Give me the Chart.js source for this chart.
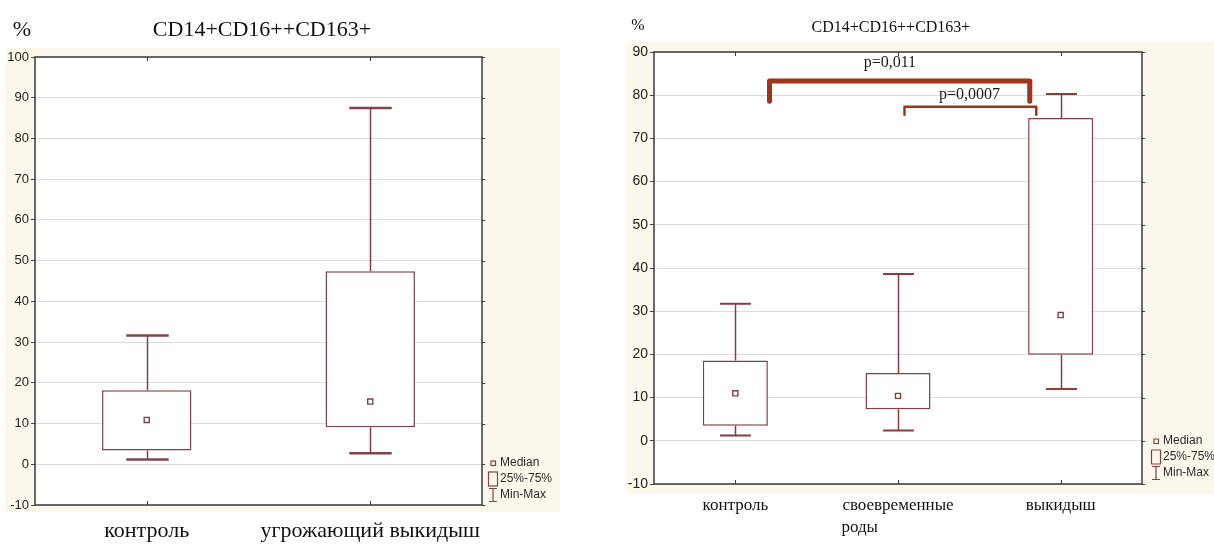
<!DOCTYPE html>
<html>
<head>
<meta charset="utf-8">
<script src="https://cdn.jsdelivr.net/npm/chart.js@4.4.0/dist/chart.umd.min.js"></script>
<style>
	body { margin: 0; background: #fff; width: 1214px; height: 544px; overflow: hidden; }
	.panel { position: absolute; top: 0; }
</style>
</head>
<body>
<div class="panel" style="left:0"><canvas id="left" width="600" height="544"></canvas></div>
<div class="panel" style="left:600px"><canvas id="right" width="614" height="544"></canvas></div>
<script>
'use strict';

// left panel : control vs threatened miscarriage
var leftCategories = ['контроль', 'угрожающий выкидыш'];
var leftMin    = [1.2, 2.7];
var leftQ1     = [3.4, 9.1];
var leftMedian = [10.9, 15.4];
var leftQ3     = [18.2, 47.4];
var leftMax    = [31.6, 87.5];
var leftYRange = [-10, 100];

// right panel : control, term delivery, miscarriage
var rightCategories = ['контроль', ['своевременные', 'роды'], 'выкидыш'];
var rightMin    = [1.2, 2.4, 12.0];
var rightQ1     = [3.5, 7.3, 19.9];
var rightMedian = [11.0, 10.4, 29.1];
var rightQ3     = [18.6, 15.7, 74.7];
var rightMax    = [31.7, 38.6, 80.3];
var rightYRange = [-10, 90];

// significance brackets (category index / % units)
var pLabels   = ['p=0,011', 'p=0,0007'];
var pBrackets = [[0.21, 1.81, 83.3, 78.6], [1.04, 1.85, 77.3, 75.5]];
var pTextAt   = [[0.95, 87.6], [1.44, 80.1]];

var legendLabels = ['Median', '25%-75%', 'Min-Max'];
var chartTitle = 'CD14+CD16++CD163+';

var SERIF = '"Liberation Serif", "Times New Roman", serif';
var SANS = '"Liberation Sans", Arial, sans-serif';

//pad the extra lines of a multi-line label so that they start where the first line starts
function alignLeft(ctx, lines, font){
	if(!Array.isArray(lines)){
		return lines;
	}
	ctx.save();
	ctx.font = font;
	var w0 = ctx.measureText(lines[0]).width,
		sp = ctx.measureText('\u00a0').width,
		out = lines.map(function(l){
			var n = Math.round((w0 - ctx.measureText(l).width) / sp);
			return l + '\u00a0'.repeat(Math.max(0, n));
		});
	ctx.restore();
	return out;
}

var boxPlugin = {
	id : 'boxplot',

	beforeDraw : function(chart, args, o){
		var ctx = chart.ctx, a = chart.chartArea;
		ctx.save();
		ctx.fillStyle = '#fdf8ec';
		ctx.fillRect(o.panel[0], o.panel[1], o.panel[2], o.panel[3]);
		ctx.fillStyle = '#ffffff';
		ctx.fillRect(a.left, a.top, a.right - a.left, a.bottom - a.top);
		ctx.restore();
	},

	afterDatasetsDraw : function(chart, args, o){
		var ctx = chart.ctx, a = chart.chartArea,
			x = chart.scales.x, y = chart.scales.y,
			capW = (a.right - a.left) / o.min.length * 0.19,
			i, cx, yMin, yMax;
		ctx.save();
		ctx.strokeStyle = o.color;
		for(i = 0; i < o.min.length; i++){
			cx = Math.round(x.getPixelForValue(i)) + 0.5;
			yMin = y.getPixelForValue(o.min[i]);
			yMax = y.getPixelForValue(o.max[i]);
			//whiskers
			ctx.lineWidth = 1.5;
			ctx.beginPath();
			ctx.moveTo(cx, y.getPixelForValue(o.q3[i]));
			ctx.lineTo(cx, yMax);
			ctx.moveTo(cx, y.getPixelForValue(o.q1[i]));
			ctx.lineTo(cx, yMin);
			ctx.stroke();
			//caps
			ctx.lineWidth = o.capWidth;
			ctx.beginPath();
			ctx.moveTo(cx - capW / 2, yMax);
			ctx.lineTo(cx + capW / 2, yMax);
			ctx.moveTo(cx - capW / 2, yMin);
			ctx.lineTo(cx + capW / 2, yMin);
			ctx.stroke();
		}
		ctx.restore();
	},

	afterDraw : function(chart, args, o){
		var ctx = chart.ctx, a = chart.chartArea,
			x = chart.scales.x, y = chart.scales.y,
			i, px, b, lx, ly, row = 16;
		ctx.save();

		//frame and the small tick marks
		ctx.strokeStyle = '#3a3a3a';
		ctx.lineWidth = 1.5;
		ctx.strokeRect(a.left, a.top, a.right - a.left, a.bottom - a.top);
		ctx.lineWidth = 1;
		ctx.beginPath();
		for(i = 0; i < o.min.length; i++){
			px = Math.round(x.getPixelForValue(i)) + 0.5;
			ctx.moveTo(px, a.top);
			ctx.lineTo(px, a.top + 4);
			ctx.moveTo(px, a.bottom);
			ctx.lineTo(px, a.bottom - 4);
		}
		y.ticks.forEach(function(t){
			var py = Math.round(y.getPixelForValue(t.value)) + 0.5;
			ctx.moveTo(a.right, py);
			ctx.lineTo(a.right + 3, py);
		});
		ctx.stroke();

		//significance brackets
		if(o.brackets){
			ctx.strokeStyle = '#a3341c';
			ctx.lineJoin = 'round';
			ctx.lineCap = 'round';
			o.brackets.forEach(function(br, k){
				ctx.lineWidth = k === 0 ? 5 : 2.5;
				ctx.beginPath();
				ctx.moveTo(x.getPixelForValue(br[0]), y.getPixelForValue(br[3]));
				ctx.lineTo(x.getPixelForValue(br[0]), y.getPixelForValue(br[2]));
				ctx.lineTo(x.getPixelForValue(br[1]), y.getPixelForValue(br[2]));
				ctx.lineTo(x.getPixelForValue(br[1]), y.getPixelForValue(br[3]));
				ctx.stroke();
			});
			ctx.fillStyle = '#1a1a1a';
			ctx.font = '16px ' + SERIF;
			ctx.textAlign = 'center';
			ctx.textBaseline = 'middle';
			o.pLabels.forEach(function(t, k){
				ctx.fillText(t, x.getPixelForValue(o.pTextAt[k][0]), y.getPixelForValue(o.pTextAt[k][1]));
			});
		}

		//legend
		lx = a.right + o.legendDx;
		ly = a.bottom - o.legendDy;
		ctx.strokeStyle = o.color;
		ctx.lineWidth = 1.2;
		ctx.lineCap = 'butt';
		ctx.strokeRect(lx - 2, ly - 2, 4.5, 4.5);
		ctx.strokeRect(lx - 4.5, ly + row - 7, 9, 14);
		ctx.beginPath();
		ctx.moveTo(lx - 4, ly + 2 * row - 6.5);
		ctx.lineTo(lx + 4, ly + 2 * row - 6.5);
		ctx.moveTo(lx, ly + 2 * row - 6.5);
		ctx.lineTo(lx, ly + 2 * row + 6.5);
		ctx.moveTo(lx - 4, ly + 2 * row + 6.5);
		ctx.lineTo(lx + 4, ly + 2 * row + 6.5);
		ctx.stroke();
		ctx.fillStyle = '#2a2a2a';
		ctx.font = '12px ' + SANS;
		ctx.textAlign = 'left';
		ctx.textBaseline = 'middle';
		o.legend.forEach(function(t, k){
			ctx.fillText(t, lx + 7, ly + k * row);
		});

		//title and unit
		ctx.fillStyle = '#111';
		ctx.textAlign = 'center';
		ctx.font = o.titleSize + 'px ' + SERIF;
		ctx.fillText(o.title, o.titleAt[0], o.titleAt[1]);
		ctx.fillText('%', o.unitAt[0], o.unitAt[1]);
		ctx.restore();
	}
};

function buildBoxChart(id, s){
	var labelFont = s.labelSize + 'px ' + SERIF;
	return new Chart(document.getElementById(id).getContext('2d'), {
		type : 'bar',
		data : {
			labels : s.categories,
			datasets : [{
				type : 'line',
				data : s.median,
				showLine : false,
				pointStyle : 'rect',
				pointRadius : 3.6,
				pointBorderWidth : 1.4,
				pointBackgroundColor : '#ffffff',
				pointBorderColor : s.color,
				order : 0
			}, {
				data : s.q1.map(function(v, i){ return [v, s.q3[i]]; }),
				backgroundColor : '#ffffff',
				borderColor : s.color,
				borderWidth : 1.5,
				borderSkipped : false,
				barPercentage : 0.4,
				categoryPercentage : 1,
				order : 1
			}]
		},
		options : {
			responsive : false,
			animation : false,
			layout : { padding : s.padding },
			plugins : {
				legend : { display : false },
				tooltip : { enabled : false },
				boxplot : {
					color : s.color,
					min : s.min, q1 : s.q1, q3 : s.q3, max : s.max,
					capWidth : s.capWidth,
					panel : s.panel,
					legend : legendLabels,
					legendDx : s.legendDx,
					legendDy : s.legendDy,
					title : chartTitle,
					titleSize : s.titleSize,
					titleAt : s.titleAt,
					unitAt : s.unitAt,
					brackets : s.brackets,
					pLabels : pLabels,
					pTextAt : pTextAt
				}
			},
			scales : {
				x : {
					grid : { display : false, drawTicks : false },
					border : { display : false },
					ticks : {
						font : { family : SERIF, size : s.labelSize, lineHeight : 1.3 },
						color : '#111',
						padding : s.labelPad,
						maxRotation : 0,
						autoSkip : false,
						callback : function(value){
							return alignLeft(this.ctx, this.getLabelForValue(value), labelFont);
						}
					},
					afterFit : function(scale){ scale.height = s.xHeight; }
				},
				y : {
					min : s.yRange[0],
					max : s.yRange[1],
					grid : { color : '#dcdcdc', lineWidth : 1, tickLength : 4, tickColor : '#444' },
					border : { display : false },
					ticks : {
						stepSize : 10,
						font : { family : SANS, size : s.tickSize },
						color : '#222',
						padding : 2
					},
					afterFit : function(scale){ scale.width = s.yWidth; }
				}
			}
		},
		plugins : [boxPlugin]
	});
}

buildBoxChart('left', {
	categories : leftCategories,
	min : leftMin, q1 : leftQ1, median : leftMedian, q3 : leftQ3, max : leftMax,
	yRange : leftYRange,
	color : '#7e4448',
	capWidth : 2.5,
	padding : { left : 0, right : 118, top : 57, bottom : 0 },
	yWidth : 35, xHeight : 39,
	labelSize : 22, labelPad : 12, tickSize : 13,
	panel : [5, 48, 555, 464],
	legendDx : 11, legendDy : 42,
	titleSize : 22, titleAt : [262, 30], unitAt : [22, 30]
});

buildBoxChart('right', {
	categories : rightCategories,
	min : rightMin, q1 : rightQ1, median : rightMedian, q3 : rightQ3, max : rightMax,
	yRange : rightYRange,
	color : '#8a3c3e',
	capWidth : 2,
	padding : { left : 0, right : 72, top : 52, bottom : 0 },
	yWidth : 54, xHeight : 60,
	labelSize : 17, labelPad : 10, tickSize : 14,
	panel : [25, 42, 589, 452],
	legendDx : 14, legendDy : 43,
	titleSize : 16, titleAt : [291, 28], unitAt : [38, 26],
	brackets : pBrackets
});
</script>
</body>
</html>
